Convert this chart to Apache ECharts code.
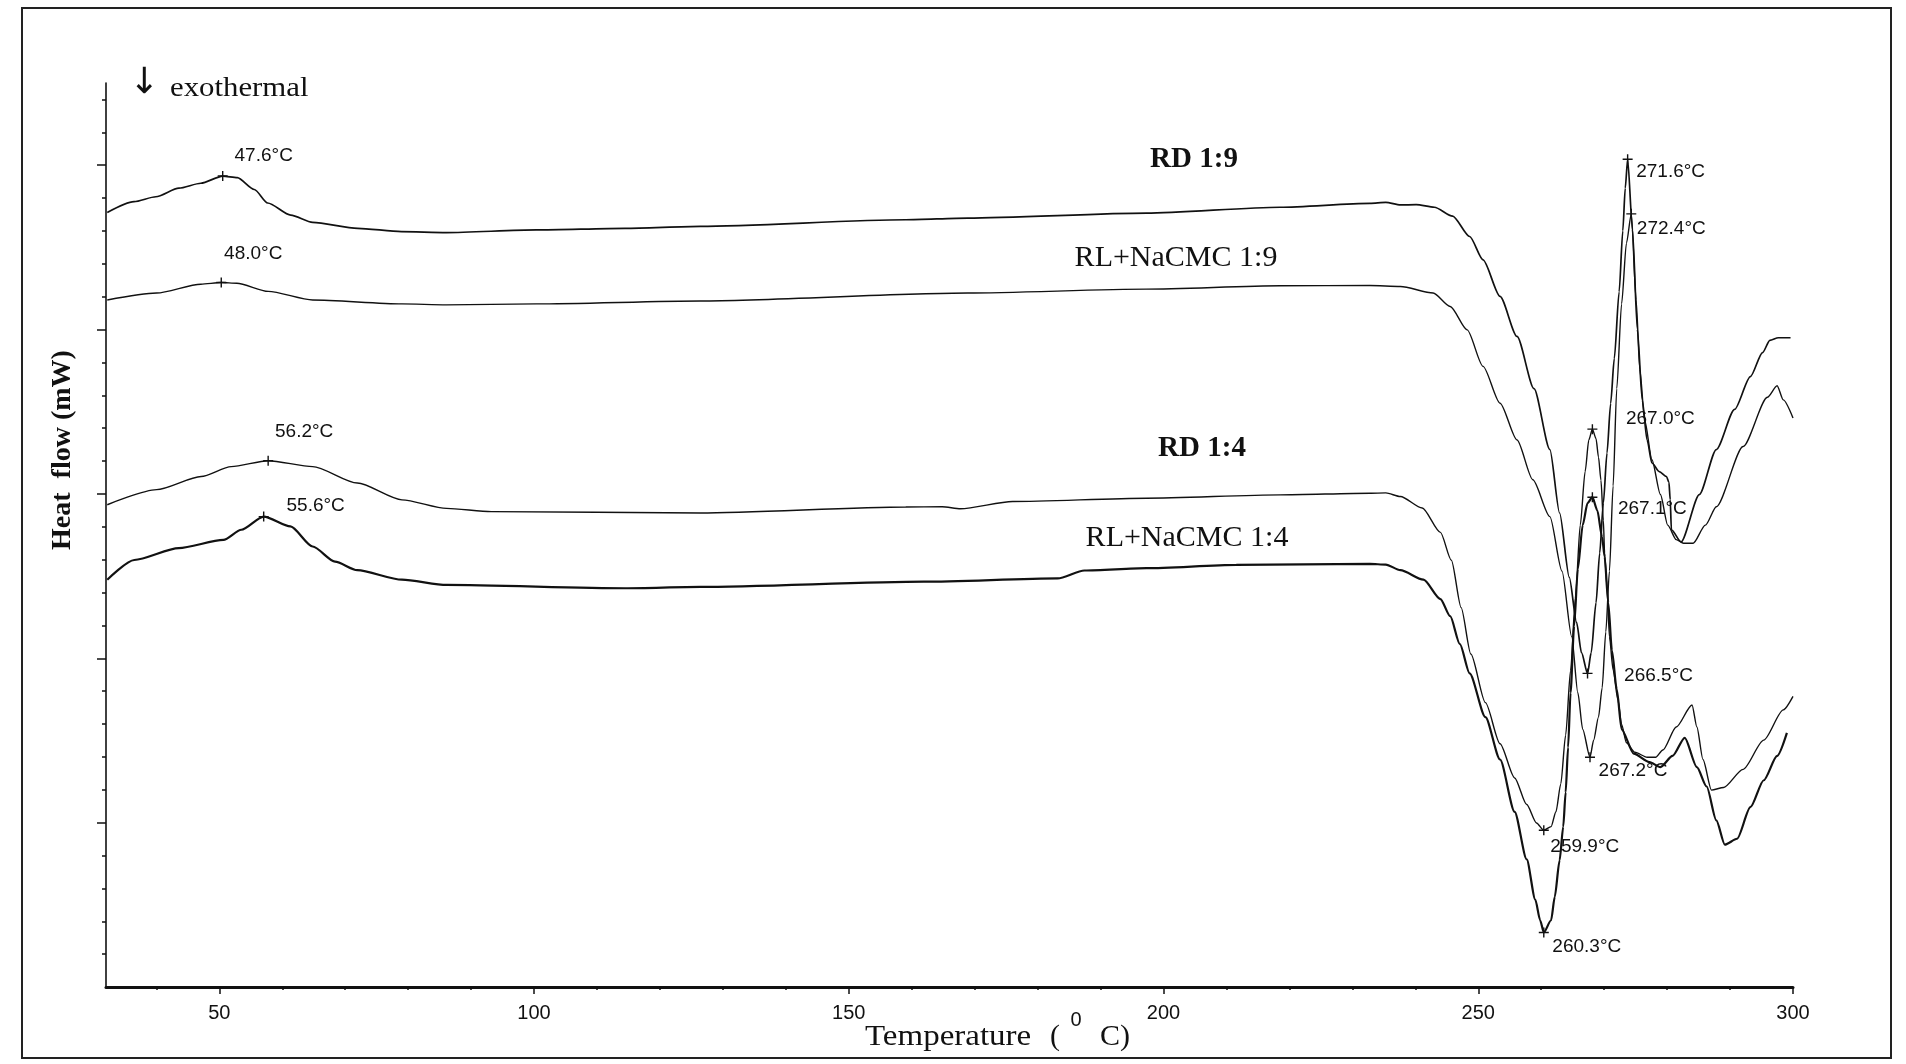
<!DOCTYPE html>
<html>
<head>
<meta charset="utf-8">
<title>DSC thermograms</title>
<script src="https://cdn.jsdelivr.net/npm/echarts@6/dist/echarts.min.js"></script>
<style>
html, body { margin: 0; padding: 0; background: #fff; }
#main { width: 1906px; height: 1064px; }
</style>
</head>
<body>
<div id="main"></div>
<script>
// temperature (°C) and heat flow (arbitrary units, 1 unit = 1 minor tick)
var tRD19 = [32.2, 36.45, 39.92, 43.59, 47.07, 50.54, 52.86, 55.56, 57.68, 61.35, 64.83, 71.97, 78.92, 86.07, 100.35, 114.45, 126.42, 159.05, 168.89, 197.28, 218.51, 232.8, 235.31, 237.63, 240.14, 243.03, 245.93, 248.63, 250.76, 253.46, 256.16, 258.86, 261.38, 262.92, 264.46, 265.62, 266.4, 267.36, 267.94, 268.71, 269.29, 269.87, 270.45, 271.03, 271.61, 272.38, 272.96, 273.35, 273.73, 274.5, 275.27, 276.05, 276.82, 277.59, 278.75, 279.91, 280.29, 280.49, 280.68, 282.22, 285.12, 287.82, 290.72, 293.23, 295.16, 296.32, 297.67, 299.61];
var hRD19 = [23.56, 23.89, 24.04, 24.30, 24.45, 24.67, 24.62, 24.26, 23.85, 23.48, 23.26, 23.08, 22.98, 22.95, 23.03, 23.08, 23.14, 23.34, 23.39, 23.54, 23.72, 23.84, 23.87, 23.79, 23.80, 23.72, 23.45, 22.83, 22.12, 21.01, 19.79, 18.20, 16.35, 14.42, 12.46, 11.09, 10.17, 9.54, 10.17, 11.69, 13.20, 14.72, 16.24, 17.75, 19.12, 21.15, 23.00, 24.30, 25.18, 23.04, 20.01, 17.86, 16.64, 15.94, 15.68, 15.53, 15.35, 14.83, 13.91, 13.54, 14.98, 16.35, 17.57, 18.57, 19.30, 19.67, 19.75, 19.75];

var tRL19 = [32.2, 40.04, 47.07, 50.31, 52.78, 57.76, 64.83, 79.02, 86.07, 100.35, 126.42, 168.89, 197.28, 218.51, 232.8, 237.63, 242.84, 245.54, 248.24, 250.76, 253.46, 256.16, 258.67, 261.38, 263.3, 264.85, 265.82, 266.59, 267.75, 268.33, 269.1, 269.68, 270.26, 270.84, 271.42, 272.0, 272.77, 273.54, 274.31, 275.08, 275.66, 276.43, 277.59, 278.94, 280.1, 281.45, 282.61, 284.15, 286.08, 287.82, 292.07, 295.93, 297.48, 298.45, 300];
var hRL19 = [20.90, 21.11, 21.38, 21.43, 21.41, 21.16, 20.90, 20.78, 20.75, 20.78, 20.87, 21.11, 21.23, 21.33, 21.34, 21.31, 21.11, 20.70, 19.99, 18.88, 17.76, 16.64, 15.43, 14.31, 12.65, 10.65, 8.95, 7.84, 6.99, 7.51, 8.21, 9.10, 10.80, 12.65, 15.24, 18.20, 20.78, 22.63, 23.52, 20.90, 18.79, 17.25, 16.04, 14.98, 14.05, 13.61, 13.50, 13.50, 14.05, 14.61, 16.44, 17.94, 18.29, 17.86, 17.31];

var tRD14 = [32.2, 40.04, 47.12, 51.89, 57.76, 64.83, 71.93, 79.02, 86.1, 93.21, 126.42, 159.05, 164.84, 167.74, 176.03, 197.28, 218.51, 232.8, 235.31, 237.63, 241.1, 243.99, 245.73, 247.28, 248.82, 251.14, 253.46, 255.78, 257.7, 259.25, 260.41, 261.57, 262.34, 263.11, 263.88, 264.66, 265.43, 266.2, 266.98, 267.56, 268.13, 268.71, 269.1, 269.49, 269.87, 270.07, 270.45, 270.84, 271.42, 272.19, 272.77, 273.54, 274.89, 276.82, 278.17, 279.33, 281.45, 283.96, 284.73, 285.7, 287.05, 288.98, 292.07, 295.35, 298.45, 300];
var hRD14 = [14.67, 15.13, 15.53, 15.83, 16.01, 15.83, 15.33, 14.82, 14.56, 14.46, 14.42, 14.60, 14.61, 14.55, 14.77, 14.87, 14.97, 15.02, 15.03, 14.92, 14.57, 13.83, 12.98, 11.54, 10.13, 8.65, 7.40, 6.36, 5.55, 4.99, 4.77, 4.88, 5.33, 6.18, 7.66, 9.62, 11.83, 14.05, 15.68, 16.64, 16.97, 16.68, 16.12, 15.42, 14.20, 13.20, 12.17, 10.65, 9.65, 8.73, 7.99, 7.43, 7.14, 6.99, 6.99, 7.21, 7.91, 8.58, 7.91, 6.92, 5.99, 6.07, 6.62, 7.51, 8.43, 8.84];

var tRL14 = [32.2, 36.49, 43.57, 50.66, 53.5, 57.05, 61.3, 64.83, 68.38, 71.91, 79.02, 86.1, 114.49, 126.42, 161.94, 183.18, 187.43, 197.28, 211.56, 232.8, 235.31, 237.63, 241.3, 243.99, 245.54, 247.08, 248.63, 251.14, 253.46, 255.78, 257.7, 259.06, 259.83, 260.41, 261.57, 262.15, 262.92, 263.5, 263.88, 264.27, 264.66, 265.23, 265.82, 266.59, 267.36, 268.13, 268.91, 269.68, 270.07, 270.65, 271.23, 272.0, 272.77, 274.69, 277.2, 278.94, 280.87, 282.8, 284.73, 286.28, 287.82, 289.17, 291.11, 293.23, 295.35, 297.48, 299.03];
var hRL14 = [12.39, 12.99, 13.35, 13.60, 13.91, 14.31, 14.01, 13.40, 12.94, 12.68, 12.39, 12.23, 12.13, 12.17, 12.33, 12.43, 12.67, 12.74, 12.84, 12.87, 12.85, 12.68, 12.39, 11.80, 11.28, 10.43, 9.54, 8.21, 6.92, 5.33, 3.88, 2.66, 2.03, 1.66, 2.03, 2.74, 3.85, 4.88, 5.92, 7.29, 8.95, 10.98, 12.72, 14.05, 14.72, 14.90, 14.50, 13.68, 13.09, 11.69, 10.24, 9.06, 7.84, 7.10, 6.84, 6.69, 7.03, 7.58, 6.69, 6.10, 5.07, 4.33, 4.51, 5.47, 6.29, 7.03, 7.73];

// marked peaks
var peakT = [50.54, 50.31, 57.76, 57.05, 273.73, 274.31, 268.13, 268.13, 267.36, 267.75, 260.41, 260.41];
var peakH = [24.67, 21.43, 16.01, 14.31, 25.18, 23.52, 16.97, 14.90, 9.54, 6.99, 4.77, 1.66];
var peakLabels = ['47.6°C', '48.0°C', '56.2°C', '55.6°C', '271.6°C', '272.4°C', '267.0°C', '267.1°C', '266.5°C', '267.2°C', '259.9°C', '260.3°C'];

// ticks
var xMajorTicks = [50, 100, 150, 200, 250, 300];
var xMinorTicks = [40, 60, 70, 80, 90, 110, 120, 130, 140, 160, 170, 180, 190, 210, 220, 230, 240, 260, 270, 280, 290];
var yMajorTicks = [5, 10, 15, 20, 25];
var yMinorTicks = [1, 2, 3, 4, 6, 7, 8, 9, 11, 12, 13, 14, 16, 17, 18, 19, 21, 22, 23, 24, 26, 27];

// label placement (px, relative to marker)
var peakLabelOffset = [[41, -20], [32, -29], [36, -29], [52, -11], [43, 13], [40, 15], [68, -10], [60, 12], [71, 2], [43, 14], [41, 17], [43, 14]];

var ink = '#111';
var chartDom = document.getElementById('main');
var myChart = echarts.init(chartDom);

function pairs(t, h) {
    return t.map(function (v, i) { return [v, h[i]]; });
}

var curves = [
    { name: 'RD 1:9', data: pairs(tRD19, hRD19), width: 1.7 },
    { name: 'RL+NaCMC 1:9', data: pairs(tRL19, hRL19), width: 1.4 },
    { name: 'RD 1:4', data: pairs(tRD14, hRD14), width: 1.4 },
    { name: 'RL+NaCMC 1:4', data: pairs(tRL14, hRL14), width: 2.2 }
];

var series = curves.map(function (c) {
    return {
        name: c.name,
        type: 'line',
        data: c.data,
        showSymbol: false,
        smooth: 0.25,
        smoothMonotone: 'x',
        lineStyle: { color: ink, width: c.width, opacity: 1 },
        z: 3
    };
});

series.push({
    name: 'peaks',
    type: 'scatter',
    symbol: 'path://M4.3,0H5.7V10H4.3Z M0,4.3H10V5.7H0Z',
    symbolSize: 10,
    itemStyle: { color: ink, opacity: 1 },
    label: {
        show: true,
        position: 'inside',
        color: ink,
        opacity: 1,
        fontSize: 19,
        fontFamily: 'Liberation Sans',
        formatter: function (p) { return peakLabels[p.dataIndex]; }
    },
    data: peakT.map(function (t, i) {
        return { value: [t, peakH[i]], label: { offset: peakLabelOffset[i] } };
    }),
    z: 5
});

var option = {
    animation: false,
    backgroundColor: '#fff',
    grid: { left: 106, right: 113, top: 83, bottom: 77 },
    xAxis: [
        {
            type: 'value',
            min: 32,
            max: 300,
            position: 'bottom',
            axisLine: { show: true, onZero: false, lineStyle: { color: ink, width: 3 } },
            axisTick: { show: true, customValues: xMajorTicks, length: 7, lineStyle: { color: ink, width: 1.5 } },
            axisLabel: { show: true, customValues: xMajorTicks, margin: 16, color: ink, fontSize: 20, fontFamily: 'Liberation Sans' },
            splitLine: { show: false }
        },
        {
            type: 'value',
            min: 32,
            max: 300,
            position: 'bottom',
            axisLine: { show: false, onZero: false },
            axisTick: { show: true, customValues: xMinorTicks, length: 3, lineStyle: { color: ink, width: 1.5 } },
            axisLabel: { show: false },
            splitLine: { show: false }
        }
    ],
    yAxis: [
        {
            type: 'value',
            min: 0,
            max: 27.5,
            position: 'left',
            axisLine: { show: true, onZero: false, lineStyle: { color: ink, width: 1.6 } },
            axisTick: { show: true, customValues: yMajorTicks, length: 9, lineStyle: { color: ink, width: 1.5 } },
            axisLabel: { show: false },
            splitLine: { show: false }
        },
        {
            type: 'value',
            min: 0,
            max: 27.5,
            position: 'left',
            axisLine: { show: false, onZero: false },
            axisTick: { show: true, customValues: yMinorTicks, length: 4, lineStyle: { color: ink, width: 1.5 } },
            axisLabel: { show: false },
            splitLine: { show: false }
        }
    ],
    graphic: [
        // scanned page frame
        { type: 'rect', silent: true, shape: { x: 22, y: 8, width: 1869, height: 1050 }, style: { fill: 'none', stroke: '#222', lineWidth: 2 } },
        { type: 'text', x: 144, y: 84, style: { text: '↓', font: '36px "DejaVu Sans"', fill: ink, align: 'center', verticalAlign: 'middle' } },
        { type: 'text', x: 170, y: 89, scaleX: 1.1, style: { text: 'exothermal', font: '28px "Liberation Serif"', fill: ink, align: 'left', verticalAlign: 'middle' } },
        { type: 'text', x: 63, y: 450, rotation: Math.PI / 2, style: { text: 'Heat  flow (mW)', font: 'bold 28px "Liberation Serif"', fill: ink, align: 'center', verticalAlign: 'middle' } },
        { type: 'text', x: 865, y: 1037, scaleX: 1.1, style: { text: 'Temperature', font: '30px "Liberation Serif"', fill: ink, align: 'left', verticalAlign: 'middle' } },
        { type: 'text', x: 1050, y: 1037, style: { text: '(', font: '30px "Liberation Serif"', fill: ink, align: 'left', verticalAlign: 'middle' } },
        { type: 'text', x: 1076, y: 1020, style: { text: '0', font: '20px "Liberation Sans"', fill: ink, align: 'center', verticalAlign: 'middle' } },
        { type: 'text', x: 1100, y: 1037, style: { text: 'C)', font: '30px "Liberation Serif"', fill: ink, align: 'left', verticalAlign: 'middle' } },
        // curve names
        { type: 'text', x: 1194, y: 160, style: { text: 'RD 1:9', font: 'bold 29px "Liberation Serif"', fill: ink, align: 'center', verticalAlign: 'middle' } },
        { type: 'text', x: 1176, y: 258, style: { text: 'RL+NaCMC 1:9', font: '30px "Liberation Serif"', fill: ink, align: 'center', verticalAlign: 'middle' } },
        { type: 'text', x: 1202, y: 449, style: { text: 'RD 1:4', font: 'bold 29px "Liberation Serif"', fill: ink, align: 'center', verticalAlign: 'middle' } },
        { type: 'text', x: 1187, y: 538, style: { text: 'RL+NaCMC 1:4', font: '30px "Liberation Serif"', fill: ink, align: 'center', verticalAlign: 'middle' } }
    ],
    series: series
};

option && myChart.setOption(option);
</script>
</body>
</html>
